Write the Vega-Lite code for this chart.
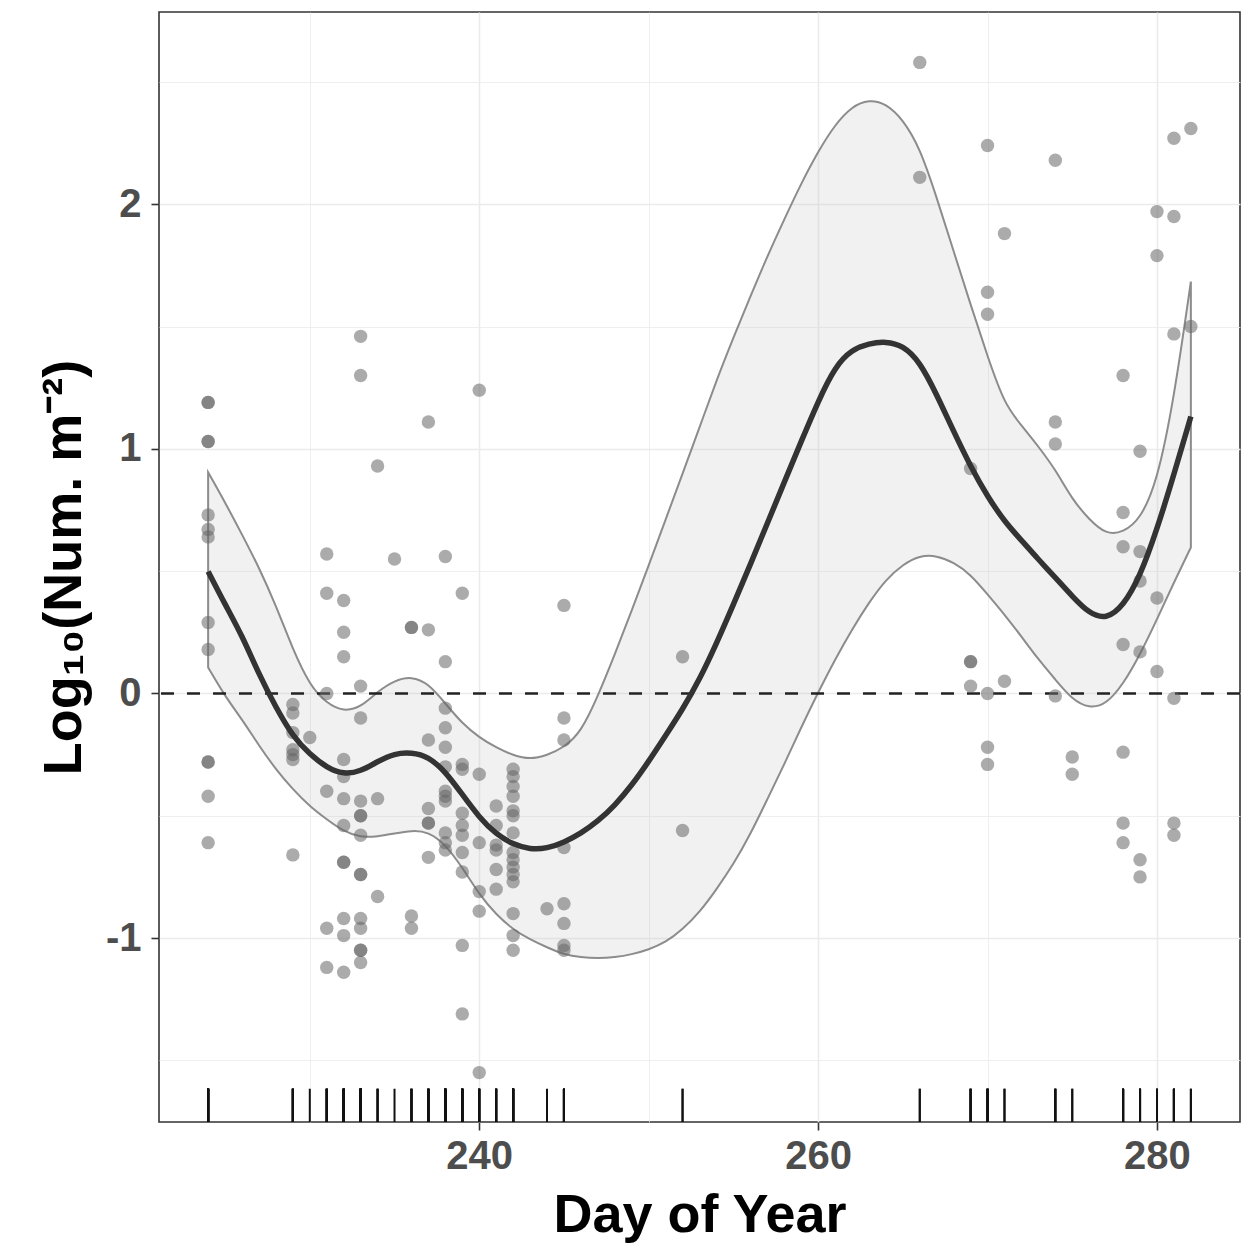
{
  "$schema": "https://vega.github.io/schema/vega-lite/v6.json",
  "width": 1081,
  "height": 1110,
  "autosize": {"type": "none"},
  "padding": {"left": 159, "top": 12, "right": 2, "bottom": 126},
  "background": "white",
  "config": {
    "font": "Liberation Sans",
    "view": {"stroke": "#333333", "strokeWidth": 1.6}
  },
  "datasets": {
    "pts": [
      {"d":224,"v":1.19},{"d":224,"v":1.19},{"d":224,"v":1.03},{"d":224,"v":1.03},{"d":224,"v":0.73},{"d":224,"v":0.67},{"d":224,"v":0.64},{"d":224,"v":0.29},{"d":224,"v":0.18},{"d":224,"v":-0.28},{"d":224,"v":-0.28},{"d":224,"v":-0.42},{"d":224,"v":-0.61},
      {"d":229,"v":-0.045},{"d":229,"v":-0.08},{"d":229,"v":-0.16},{"d":229,"v":-0.23},{"d":229,"v":-0.25},{"d":229,"v":-0.27},{"d":229,"v":-0.66},
      {"d":230,"v":-0.18},
      {"d":231,"v":0.57},{"d":231,"v":0.41},{"d":231,"v":0.0},{"d":231,"v":-0.40},{"d":231,"v":-0.96},{"d":231,"v":-1.12},
      {"d":232,"v":0.38},{"d":232,"v":0.25},{"d":232,"v":0.15},{"d":232,"v":-0.27},{"d":232,"v":-0.34},{"d":232,"v":-0.43},{"d":232,"v":-0.54},{"d":232,"v":-0.69},{"d":232,"v":-0.69},{"d":232,"v":-0.92},{"d":232,"v":-0.99},{"d":232,"v":-1.14},
      {"d":233,"v":1.46},{"d":233,"v":1.30},{"d":233,"v":0.03},{"d":233,"v":-0.10},{"d":233,"v":-0.44},{"d":233,"v":-0.50},{"d":233,"v":-0.50},{"d":233,"v":-0.58},{"d":233,"v":-0.74},{"d":233,"v":-0.74},{"d":233,"v":-0.92},{"d":233,"v":-0.96},{"d":233,"v":-1.05},{"d":233,"v":-1.05},{"d":233,"v":-1.10},
      {"d":234,"v":0.93},{"d":234,"v":-0.43},{"d":234,"v":-0.83},
      {"d":235,"v":0.55},
      {"d":236,"v":0.27},{"d":236,"v":0.27},{"d":236,"v":-0.91},{"d":236,"v":-0.96},
      {"d":237,"v":1.11},{"d":237,"v":0.26},{"d":237,"v":-0.19},{"d":237,"v":-0.47},{"d":237,"v":-0.53},{"d":237,"v":-0.53},{"d":237,"v":-0.67},
      {"d":238,"v":0.56},{"d":238,"v":0.13},{"d":238,"v":-0.06},{"d":238,"v":-0.14},{"d":238,"v":-0.22},{"d":238,"v":-0.30},{"d":238,"v":-0.40},{"d":238,"v":-0.42},{"d":238,"v":-0.44},{"d":238,"v":-0.57},{"d":238,"v":-0.61},{"d":238,"v":-0.64},
      {"d":239,"v":0.41},{"d":239,"v":-0.29},{"d":239,"v":-0.31},{"d":239,"v":-0.49},{"d":239,"v":-0.54},{"d":239,"v":-0.58},{"d":239,"v":-0.65},{"d":239,"v":-0.73},{"d":239,"v":-1.03},{"d":239,"v":-1.31},
      {"d":240,"v":1.24},{"d":240,"v":-0.33},{"d":240,"v":-0.61},{"d":240,"v":-0.81},{"d":240,"v":-0.89},{"d":240,"v":-1.55},
      {"d":241,"v":-0.46},{"d":241,"v":-0.54},{"d":241,"v":-0.62},{"d":241,"v":-0.64},{"d":241,"v":-0.72},{"d":241,"v":-0.80},
      {"d":242,"v":-0.31},{"d":242,"v":-0.34},{"d":242,"v":-0.38},{"d":242,"v":-0.42},{"d":242,"v":-0.48},{"d":242,"v":-0.50},{"d":242,"v":-0.57},{"d":242,"v":-0.65},{"d":242,"v":-0.68},{"d":242,"v":-0.71},{"d":242,"v":-0.74},{"d":242,"v":-0.77},{"d":242,"v":-0.90},{"d":242,"v":-0.99},{"d":242,"v":-1.05},
      {"d":244,"v":-0.88},
      {"d":245,"v":0.36},{"d":245,"v":-0.10},{"d":245,"v":-0.19},{"d":245,"v":-0.63},{"d":245,"v":-0.86},{"d":245,"v":-0.94},{"d":245,"v":-1.03},{"d":245,"v":-1.05},
      {"d":252,"v":0.15},{"d":252,"v":-0.56},
      {"d":266,"v":2.58},{"d":266,"v":2.11},
      {"d":269,"v":0.92},{"d":269,"v":0.13},{"d":269,"v":0.13},{"d":269,"v":0.03},
      {"d":270,"v":2.24},{"d":270,"v":1.64},{"d":270,"v":1.55},{"d":270,"v":0.0},{"d":270,"v":-0.22},{"d":270,"v":-0.29},
      {"d":271,"v":1.88},{"d":271,"v":0.05},
      {"d":274,"v":2.18},{"d":274,"v":1.11},{"d":274,"v":1.02},{"d":274,"v":-0.01},
      {"d":275,"v":-0.26},{"d":275,"v":-0.33},
      {"d":278,"v":1.30},{"d":278,"v":0.74},{"d":278,"v":0.60},{"d":278,"v":0.20},{"d":278,"v":-0.24},{"d":278,"v":-0.53},{"d":278,"v":-0.61},
      {"d":279,"v":0.99},{"d":279,"v":0.58},{"d":279,"v":0.46},{"d":279,"v":0.17},{"d":279,"v":-0.68},{"d":279,"v":-0.75},
      {"d":280,"v":1.97},{"d":280,"v":1.79},{"d":280,"v":0.39},{"d":280,"v":0.09},
      {"d":281,"v":2.27},{"d":281,"v":1.95},{"d":281,"v":1.47},{"d":281,"v":-0.02},{"d":281,"v":-0.53},{"d":281,"v":-0.58},
      {"d":282,"v":2.31},{"d":282,"v":1.50}
    ],
    "fit": [
      {"d":224,"m":0.499,"lo":0.106,"hi":0.904},
      {"d":225,"m":0.364,"lo":-0.012,"hi":0.781},
      {"d":226,"m":0.237,"lo":-0.106,"hi":0.650},
      {"d":227,"m":0.078,"lo":-0.213,"hi":0.515},
      {"d":228,"m":-0.057,"lo":-0.311,"hi":0.360},
      {"d":229,"m":-0.176,"lo":-0.392,"hi":0.180},
      {"d":230,"m":-0.249,"lo":-0.462,"hi":0.033},
      {"d":231,"m":-0.303,"lo":-0.515,"hi":-0.041},
      {"d":232,"m":-0.331,"lo":-0.564,"hi":-0.074},
      {"d":233,"m":-0.319,"lo":-0.589,"hi":-0.057},
      {"d":234,"m":-0.278,"lo":-0.585,"hi":0.008},
      {"d":235,"m":-0.245,"lo":-0.572,"hi":0.053},
      {"d":236,"m":-0.241,"lo":-0.560,"hi":0.070},
      {"d":237,"m":-0.258,"lo":-0.565,"hi":0.041},
      {"d":238,"m":-0.319,"lo":-0.617,"hi":-0.041},
      {"d":239,"m":-0.413,"lo":-0.711,"hi":-0.123},
      {"d":240,"m":-0.507,"lo":-0.822,"hi":-0.180},
      {"d":241,"m":-0.576,"lo":-0.904,"hi":-0.221},
      {"d":242,"m":-0.617,"lo":-0.965,"hi":-0.253},
      {"d":243,"m":-0.638,"lo":-1.006,"hi":-0.270},
      {"d":244,"m":-0.634,"lo":-1.038,"hi":-0.253},
      {"d":245,"m":-0.609,"lo":-1.067,"hi":-0.221},
      {"d":246,"m":-0.572,"lo":-1.079,"hi":-0.159},
      {"d":247,"m":-0.523,"lo":-1.083,"hi":-0.012},
      {"d":248,"m":-0.458,"lo":-1.079,"hi":0.159},
      {"d":249,"m":-0.376,"lo":-1.067,"hi":0.339},
      {"d":250,"m":-0.278,"lo":-1.047,"hi":0.523},
      {"d":251,"m":-0.172,"lo":-1.018,"hi":0.711},
      {"d":252,"m":-0.065,"lo":-0.965,"hi":0.899},
      {"d":253,"m":0.057,"lo":-0.895,"hi":1.087},
      {"d":254,"m":0.204,"lo":-0.801,"hi":1.280},
      {"d":255,"m":0.364,"lo":-0.699,"hi":1.455},
      {"d":256,"m":0.527,"lo":-0.576,"hi":1.623},
      {"d":257,"m":0.695,"lo":-0.433,"hi":1.787},
      {"d":258,"m":0.863,"lo":-0.290,"hi":1.938},
      {"d":259,"m":1.030,"lo":-0.139,"hi":2.085},
      {"d":260,"m":1.194,"lo":0.004,"hi":2.216},
      {"d":261,"m":1.337,"lo":0.139,"hi":2.326},
      {"d":262,"m":1.406,"lo":0.262,"hi":2.400},
      {"d":263,"m":1.431,"lo":0.372,"hi":2.428},
      {"d":264,"m":1.439,"lo":0.466,"hi":2.412},
      {"d":265,"m":1.423,"lo":0.527,"hi":2.347},
      {"d":266,"m":1.357,"lo":0.564,"hi":2.232},
      {"d":267,"m":1.222,"lo":0.564,"hi":2.028},
      {"d":268,"m":1.071,"lo":0.536,"hi":1.807},
      {"d":269,"m":0.928,"lo":0.487,"hi":1.590},
      {"d":270,"m":0.805,"lo":0.405,"hi":1.378},
      {"d":271,"m":0.703,"lo":0.323,"hi":1.182},
      {"d":272,"m":0.626,"lo":0.233,"hi":1.096},
      {"d":273,"m":0.548,"lo":0.139,"hi":1.010},
      {"d":274,"m":0.474,"lo":0.057,"hi":0.916},
      {"d":275,"m":0.397,"lo":-0.025,"hi":0.793},
      {"d":276,"m":0.327,"lo":-0.061,"hi":0.711},
      {"d":277,"m":0.303,"lo":-0.045,"hi":0.650},
      {"d":278,"m":0.356,"lo":0.037,"hi":0.658},
      {"d":279,"m":0.478,"lo":0.159,"hi":0.711},
      {"d":280,"m":0.670,"lo":0.303,"hi":0.863},
      {"d":281,"m":0.895,"lo":0.454,"hi":1.202},
      {"d":282,"m":1.132,"lo":0.597,"hi":1.684}
    ]
  },
  "layer": [
    {
      "data": {"name": "fit"},
      "mark": {"type": "area", "interpolate": "basis", "fill": "#bfbfbf", "fillOpacity": 0.22, "stroke": "#8c8c8c", "strokeWidth": 2},
      "encoding": {
        "x": {
          "field": "d", "type": "quantitative", "title": "Day of Year",
          "scale": {"domain": [221.1, 284.9], "nice": false, "zero": false},
          "axis": {
            "values": [230, 240, 250, 260, 270, 280],
            "labelExpr": "datum.value % 20 === 0 ? '' + datum.value : ''",
            "tickOpacity": {"condition": {"test": "datum.value % 20 !== 0", "value": 0}, "value": 1},
            "gridWidth": {"condition": {"test": "datum.value % 20 !== 0", "value": 0.8}, "value": 1.6},
            "gridColor": "#ebebeb",
            "domain": false,
            "tickColor": "#333333", "tickWidth": 1.6, "tickSize": 8,
            "labelFontSize": 40, "labelFontWeight": "bold", "labelColor": "#4d4d4d", "labelPadding": 6,
            "labelFlush": false, "labelOverlap": false,
            "titleFontSize": 54, "titleFontWeight": "bold", "titleColor": "#000000", "titlePadding": 12
          }
        },
        "y": {
          "field": "hi", "type": "quantitative", "title": "Log₁₀(Num. m⁻²)",
          "scale": {"domain": [-1.752, 2.786], "nice": false, "zero": false},
          "axis": {
            "values": [-1.5, -1, -0.5, 0, 0.5, 1, 1.5, 2, 2.5],
            "labelExpr": "datum.value % 1 === 0 ? '' + datum.value : ''",
            "tickOpacity": {"condition": {"test": "datum.value % 1 !== 0", "value": 0}, "value": 1},
            "gridWidth": {"condition": {"test": "datum.value % 1 !== 0", "value": 0.8}, "value": 1.6},
            "gridColor": "#ebebeb",
            "domain": false,
            "tickColor": "#333333", "tickWidth": 1.6, "tickSize": 8,
            "labelFontSize": 40, "labelFontWeight": "bold", "labelColor": "#4d4d4d", "labelPadding": 10,
            "labelFlush": false, "labelOverlap": false,
            "titleFontSize": 54, "titleFontWeight": "bold", "titleColor": "#000000", "titlePadding": 14
          }
        },
        "y2": {"field": "lo"}
      }
    },
    {
      "data": {"values": [{"z": 0}]},
      "mark": {"type": "rule", "color": "#222222", "strokeWidth": 2.6, "strokeDash": [13, 13]},
      "encoding": {"y": {"field": "z", "type": "quantitative", "title": "Log₁₀(Num. m⁻²)"}}
    },
    {
      "data": {"name": "pts"},
      "mark": {"type": "circle", "size": 180, "color": "#666666", "opacity": 0.55},
      "encoding": {
        "x": {"field": "d", "type": "quantitative", "title": "Day of Year"},
        "y": {"field": "v", "type": "quantitative", "title": "Log₁₀(Num. m⁻²)"}
      }
    },
    {
      "data": {"name": "pts"},
      "mark": {"type": "rule", "color": "#111111", "strokeWidth": 2},
      "encoding": {
        "x": {"field": "d", "type": "quantitative", "title": "Day of Year"},
        "y": {"datum": -1.752, "type": "quantitative", "title": "Log₁₀(Num. m⁻²)"},
        "y2": {"datum": -1.616}
      }
    },
    {
      "data": {"name": "fit"},
      "mark": {"type": "line", "interpolate": "basis", "color": "#333333", "strokeWidth": 5.5},
      "encoding": {
        "x": {"field": "d", "type": "quantitative", "title": "Day of Year"},
        "y": {"field": "m", "type": "quantitative", "title": "Log₁₀(Num. m⁻²)"}
      }
    }
  ]
}
